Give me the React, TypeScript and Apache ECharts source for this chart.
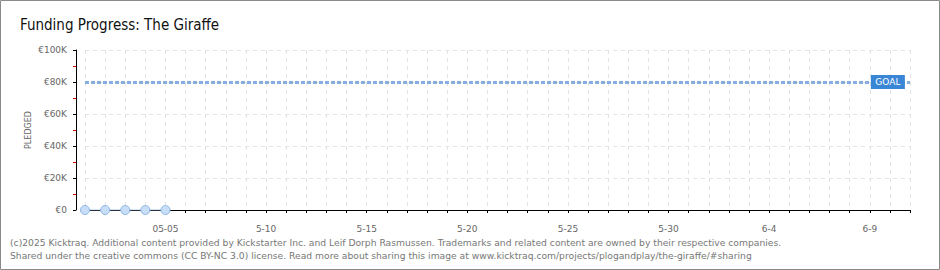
import React, { useEffect, useRef } from "react";
import * as echarts from "echarts";

const categories = [
  "05-01", "05-02", "05-03", "05-04", "05-05", "05-06", "05-07", "05-08", "05-09", "05-10",
  "05-11", "05-12", "05-13", "05-14", "05-15", "05-16", "05-17", "05-18", "05-19", "05-20",
  "05-21", "05-22", "05-23", "05-24", "05-25", "05-26", "05-27", "05-28", "05-29", "05-30",
  "05-31", "06-01", "06-02", "06-03", "06-04", "06-05", "06-06", "06-07", "06-08", "06-09",
  "06-10", "06-11",
];
const pledged = [0, 0, 0, 0, 0];
const goal = 80000;
const goalLabelAt = "06-10";
const xTickLabels: Record<string, string> = {
  "05-05": "05-05",
  "05-10": "5-10",
  "05-15": "5-15",
  "05-20": "5-20",
  "05-25": "5-25",
  "05-30": "5-30",
  "06-04": "6-4",
  "06-09": "6-9",
};
const yTickLabels = ["€0", "€20K", "€40K", "€60K", "€80K", "€100K"];
const yStep = 20000;
const yMax = 100000;

const title = "Funding Progress: The Giraffe";
const footer1 =
  "(c)2025 Kicktraq. Additional content provided by Kickstarter Inc. and Leif Dorph Rasmussen. Trademarks and related content are owned by their respective companies.";
const footer2 =
  "Shared under the creative commons (CC BY-NC 3.0) license. Read more about sharing this image at www.kicktraq.com/projects/plogandplay/the-giraffe/#sharing";

export default function App() {
  const ref = useRef<HTMLDivElement>(null);
  useEffect(() => {
    document.body.style.margin = "0";
    const chart = echarts.init(ref.current!, null, { renderer: "svg" });
    const gridColor = "#e3e3e3";
    chart.setOption({
      animation: false,
      backgroundColor: "#ffffff",
      title: {
        text: title,
        left: 15,
        top: 12,
        textStyle: {
          fontFamily: "DejaVu Sans Condensed",
          fontSize: 15,
          fontWeight: "normal",
          color: "#111",
        },
      },
      graphic: [
        {
          type: "rect",
          shape: { x: 0.5, y: 0.5, width: 939, height: 269 },
          style: { fill: "none", stroke: "#8a8a8a", lineWidth: 1 },
          silent: true,
        },
        {
          type: "text",
          left: 10,
          top: 238,
          style: { text: footer1, fill: "#777", font: "9.2px 'DejaVu Sans'" },
        },
        {
          type: "text",
          left: 10,
          top: 251,
          style: { text: footer2, fill: "#777", font: "9.2px 'DejaVu Sans'" },
        },
      ],
      grid: { left: 85, right: 30, top: 50, bottom: 60 },
      xAxis: {
        type: "category",
        data: categories,
        boundaryGap: false,
        offset: 9,
        axisLine: { lineStyle: { color: "#000", width: 1 } },
        axisTick: {
          show: true,
          interval: 0,
          length: 3,
          lineStyle: { color: "#000" },
        },
        axisLabel: {
          interval: 0,
          margin: 5,
          color: "#666",
          fontSize: 9,
          fontFamily: "DejaVu Sans",
          formatter: (v: string) => xTickLabels[v] ?? "",
        },
        splitLine: {
          show: true,
          interval: 0,
          lineStyle: { color: gridColor, type: [4, 4] },
        },
      },
      yAxis: {
        type: "value",
        min: 0,
        max: yMax,
        interval: yStep,
        offset: 9,
        name: "PLEDGED",
        nameLocation: "middle",
        nameGap: 44,
        nameMoveOverlap: false,
        nameTextStyle: {
          color: "#666",
          fontSize: 8,
          fontFamily: "DejaVu Sans",
          fontWeight: "normal",
        },
        axisLine: { show: true, lineStyle: { color: "#000", width: 1 } },
        axisTick: { show: true, length: 3, lineStyle: { color: "#000" } },
        minorTick: { show: true, splitNumber: 2, length: 3, lineStyle: { color: "#e00000" } },
        axisLabel: {
          margin: 9,
          color: "#666",
          fontSize: 9,
          fontFamily: "DejaVu Sans",
          formatter: (v: number) => yTickLabels[Math.round(v / yStep)] ?? "",
        },
        splitLine: { show: true, lineStyle: { color: gridColor, type: [4, 4] } },
      },
      series: [
        {
          type: "line",
          data: pledged,
          symbol: "circle",
          symbolSize: 9,
          lineStyle: { color: "#a9c9ef", width: 1 },
          itemStyle: { color: "#c8def7", borderColor: "#8fb7e6", borderWidth: 1 },
          markLine: {
            silent: true,
            symbol: "none",
            label: { show: false },
            lineStyle: { color: "#86afe0", width: 3, type: [4, 2] },
            data: [{ yAxis: goal }],
          },
          markPoint: {
            silent: true,
            data: [
              {
                coord: [goalLabelAt, goal],
                symbol: "rect",
                symbolSize: [34, 14],
                symbolOffset: [-2, 0],
                itemStyle: { color: "#3a86d6" },
                label: {
                  show: true,
                  position: "inside",
                  formatter: "GOAL",
                  color: "#fff",
                  fontSize: 9,
                  fontFamily: "DejaVu Sans",
                  fontWeight: "normal",
                },
              },
            ],
          },
        },
      ],
    });
    return () => chart.dispose();
  }, []);
  return <div ref={ref} style={{ width: 940, height: 270 }} />;
}
